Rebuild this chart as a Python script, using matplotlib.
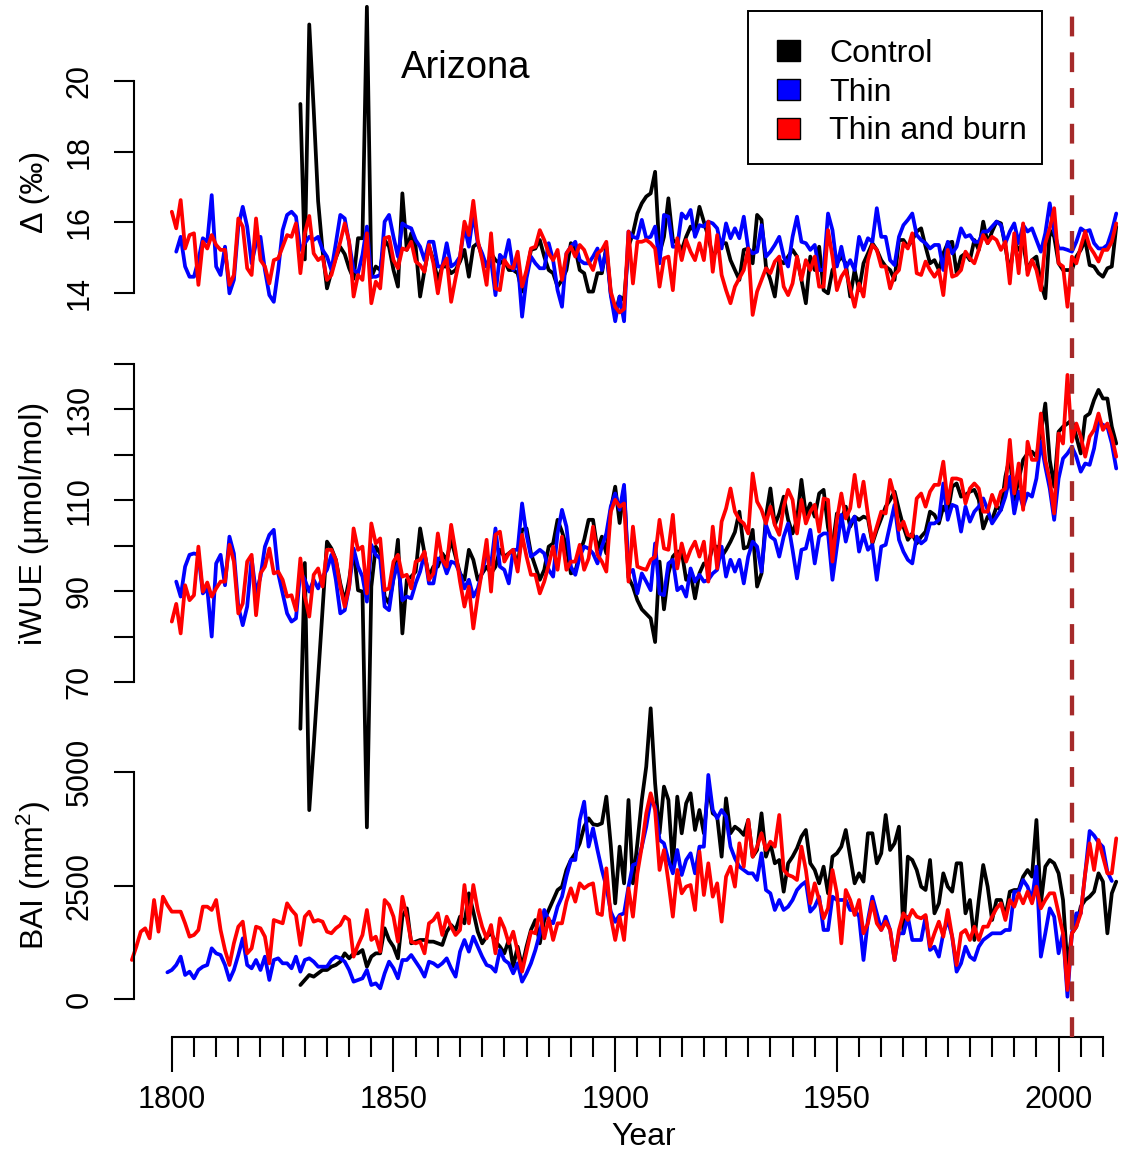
import numpy as np
import matplotlib
matplotlib.use("Agg")
import matplotlib.pyplot as plt
from matplotlib.patches import Patch, Rectangle
from matplotlib.legend_handler import HandlerPatch

plt.rcParams['font.family'] = ['Liberation Sans', 'DejaVu Sans']
plt.rcParams['mathtext.default'] = 'regular'

# ---------------- data ----------------
series_labels = ["Control", "Thin", "Thin and burn"]
series_colors = ["#000000", "#0000FF", "#FF0000"]
title_text = "Arizona"
treatment_year = 2003

# Delta (permil)
delta_control_start = 1829
delta_control = [
    19.35,
    14.95, 21.6, 19.2, 16.6, 15.2, 14.13, 14.6, 15.0, 15.3, 15.1,
    14.7, 14.4, 15.55, 15.55, 22.1, 14.45, 14.75, 14.65, 15.50, 15.31,
    14.65, 14.18, 16.82, 15.22, 15.69, 15.31, 13.90, 14.65, 15.31, 14.93,
    14.37, 14.75, 14.75, 14.56, 14.65, 14.89, 15.22, 14.46, 15.31, 15.41,
    15.03, 14.75, 15.12, 14.93, 14.84, 14.93, 14.65, 14.65, 14.56, 14.04,
    14.56, 15.22, 15.26, 15.50, 15.03, 14.65, 14.56, 14.18, 14.37, 14.65,
    15.41, 15.26, 14.65, 14.56, 14.04, 14.04, 14.56, 14.56, 15.31, 13.99,
    13.40, 13.90, 13.80, 15.31, 15.69, 16.25, 16.54, 16.73, 16.82, 17.43,
    15.12, 15.59, 16.68, 15.50, 15.41, 15.22, 15.59, 15.88, 15.74, 16.44,
    16.02, 15.59, 15.03, 15.22, 15.41, 15.41, 14.93, 14.65, 14.37, 15.22,
    15.26, 14.84, 16.21, 16.07, 14.75, 14.37, 13.90, 14.93, 14.84, 15.03,
    15.22, 15.03, 14.37, 13.71, 15.03, 14.65, 15.31, 14.08, 13.99, 14.65,
    14.84, 15.03, 14.84, 13.90, 14.65, 14.08, 14.84, 15.12, 15.41, 15.22,
    14.93, 14.75, 14.65, 14.37, 15.50, 15.50, 15.31, 15.50, 15.74, 15.83,
    15.31, 14.84, 14.93, 14.65, 15.12, 15.41, 15.45, 14.56, 15.03, 15.12,
    14.93, 15.50, 15.22, 16.02, 15.41, 15.74, 16.02, 15.97, 15.31, 14.56,
    15.45, 15.22, 15.41, 14.65, 14.93, 15.03, 14.27, 13.85, 15.78, 15.59,
    14.84, 14.65, 14.65, 14.65, 15.03, 15.22, 15.50, 14.79, 14.75, 14.56,
    14.46, 14.70, 14.75, 15.88,
]
delta_thin_start = 1801
delta_thin = [
    15.17, 15.59, 14.75, 14.46, 14.46, 14.93, 15.55, 15.45, 16.77,
    14.75, 14.51, 15.31, 13.99, 14.37, 15.88, 16.44, 15.88, 14.84, 15.41,
    15.59, 14.65, 13.94, 13.75, 14.65, 15.78, 16.21, 16.30, 16.16, 15.22,
    15.41, 15.59, 15.50, 15.59, 15.22, 15.03, 14.65, 15.41, 16.21, 16.11,
    15.41, 14.65, 14.56, 15.08, 15.88, 14.46, 14.46, 14.51, 16.02, 16.21,
    15.59, 15.03, 15.97, 15.88, 15.83, 15.50, 15.31, 14.93, 15.45, 15.45,
    14.75, 14.75, 15.41, 14.75, 14.84, 15.03, 15.88, 15.31, 16.25, 15.41,
    15.12, 14.75, 14.93, 13.94, 15.08, 14.93, 15.50, 14.65, 14.93, 13.33,
    14.42, 15.03, 14.84, 14.70, 14.70, 15.41, 14.93, 14.08, 13.61, 15.12,
    15.31, 15.45, 14.93, 14.84, 14.84, 15.03, 15.26, 14.65, 15.22, 13.94,
    13.20, 13.90, 13.20, 15.74, 15.59, 15.55, 16.07, 15.55, 15.59, 15.88,
    14.84, 16.21, 16.16, 15.31, 15.31, 16.25, 16.11, 16.35, 15.59, 15.92,
    15.88, 16.02, 15.97, 15.83, 15.26, 15.97, 15.55, 15.83, 15.55, 16.16,
    15.26, 15.12, 15.17, 15.92, 15.03, 15.17, 15.36, 15.59, 15.03, 14.75,
    15.59, 16.16, 15.45, 15.41, 15.22, 15.36, 14.65, 14.65, 16.25, 15.78,
    14.75, 15.31, 14.70, 14.93, 14.65, 15.59, 15.22, 15.55, 15.45, 16.40,
    15.59, 15.59, 14.93, 14.79, 15.59, 15.92, 16.07, 16.25, 15.64, 15.50,
    15.41, 15.26, 15.36, 15.36, 14.65, 15.45, 15.12, 15.31, 15.83, 15.59,
    15.64, 15.45, 15.45, 15.74, 15.74, 15.88, 16.02, 15.92, 15.41, 15.74,
    15.97, 15.41, 15.92, 15.74, 15.83, 15.50, 15.17, 15.69, 16.54, 15.74,
    15.26, 15.26, 15.22, 15.17, 15.45, 15.83, 15.74, 15.78, 15.41, 15.26,
    15.26, 15.36, 15.74, 16.25,
]
delta_burn_start = 1800
delta_burn = [
    16.30, 15.83, 16.63, 15.26, 15.64, 15.69, 14.23, 15.45, 15.26, 15.64,
    15.36, 15.22, 15.22, 14.23, 14.51, 16.11, 15.88, 14.70, 14.51, 16.11,
    14.93, 14.75, 14.27, 14.93, 14.98, 15.31, 15.64, 15.59, 15.97, 14.56,
    15.69, 16.18, 15.12, 14.93, 15.03, 14.37, 14.51, 14.98, 15.45, 15.97,
    15.45, 13.90, 14.51, 14.37, 15.69, 13.71, 14.32, 14.13, 15.55, 15.59,
    14.93, 14.70, 15.26, 15.22, 15.45, 14.89, 14.79, 14.60, 15.36, 14.84,
    13.99, 14.75, 14.98, 13.75, 14.42, 15.03, 16.02, 15.64, 16.61, 15.50,
    14.93, 14.23, 15.69, 14.13, 14.08, 14.93, 14.75, 14.70, 15.17, 14.18,
    14.65, 15.26, 15.31, 15.78, 15.50, 15.12, 14.93, 15.22, 14.37, 15.12,
    15.31, 15.03, 15.36, 15.22, 14.89, 14.65, 15.12, 15.22, 15.45, 14.04,
    13.61, 13.45, 13.55, 15.74, 14.27, 15.45, 15.45, 15.50, 15.41, 15.26,
    14.18, 14.98, 15.03, 14.08, 15.55, 14.93, 15.50, 15.17, 14.93, 15.41,
    14.93, 16.02, 14.60, 15.64, 14.51, 14.08, 13.71, 14.18, 14.42, 14.65,
    15.26, 13.38, 14.04, 14.37, 14.70, 14.56, 14.89, 15.03, 14.18, 13.94,
    14.27, 15.03, 14.37, 14.93, 14.65, 15.03, 14.18, 14.18, 15.78, 15.03,
    14.08, 14.46, 14.65, 14.13, 13.61, 14.27, 13.90, 14.93, 15.36, 15.22,
    14.75, 14.75, 14.13, 14.51, 14.65, 15.41, 15.26, 15.69, 14.56, 14.51,
    14.89, 14.65, 14.46, 14.65, 13.94, 15.22, 14.46, 14.51, 14.65, 15.17,
    14.98, 14.84, 15.22, 15.64, 15.41, 15.59, 15.50, 15.22, 15.45, 14.27,
    15.69, 14.56, 15.97, 14.51, 14.93, 14.65, 14.08, 15.41, 15.83, 16.40,
    14.84, 14.75, 13.61, 15.03, 14.84, 15.31, 15.74, 15.31, 15.12, 14.89,
    15.22, 15.22, 15.45, 15.97,
]

# iWUE (umol/mol)
iwue_control_start = 1829
iwue_control = [
    59.7,
    96.2, 41.8, 56.0, 71.0, 86.0, 100.9, 99.4, 96.9, 91.7, 87.7,
    92.5, 99.1, 90.2, 89.9, 38.0, 91.0, 99.8, 98.3, 88.8, 87.3,
    92.8, 101.3, 80.7, 92.5, 93.2, 94.3, 103.8, 98.3, 93.2, 95.4,
    95.4, 98.3, 96.9, 101.3, 97.6, 93.9, 92.5, 99.1, 96.9, 92.5,
    93.9, 95.4, 93.9, 95.4, 99.1, 97.6, 98.3, 99.1, 95.4, 103.5,
    103.8, 98.3, 95.4, 92.5, 94.7, 99.8, 100.5, 105.7, 103.1, 99.8,
    93.9, 94.3, 98.3, 101.3, 105.7, 105.7, 99.1, 102.0, 98.3, 107.9,
    113.0, 105.0, 112.6, 93.0, 91.0, 88.0, 86.0, 85.0, 84.0, 78.8,
    96.5, 86.0, 93.9, 97.6, 98.7, 98.7, 92.5, 93.9, 88.4, 93.9,
    96.1, 96.1, 99.8, 99.8, 97.6, 99.1, 100.9, 103.0, 107.5, 99.4,
    99.8, 103.5, 91.0, 93.9, 106.4, 112.6, 104.6, 107.1, 110.8, 105.7,
    102.7, 105.7, 114.5, 106.8, 109.3, 106.4, 111.5, 112.3, 104.0, 99.8,
    107.1, 105.7, 108.6, 104.2, 106.4, 105.7, 106.4, 106.0, 100.5, 103.5,
    106.0, 108.6, 110.1, 111.9, 107.9, 104.2, 101.3, 102.7, 100.5, 102.0,
    103.1, 107.5, 106.8, 104.9, 108.6, 107.1, 113.0, 113.7, 110.8, 111.2,
    111.9, 112.3, 110.1, 103.8, 106.4, 105.7, 108.6, 107.9, 115.2, 119.6,
    110.1, 114.5, 118.9, 120.3, 120.7, 119.6, 124.7, 131.3, 118.9, 113.0,
    125.1, 126.2, 126.9, 127.7, 124.0, 120.3, 128.4, 129.1, 132.1, 134.3,
    132.4, 132.4, 126.2, 122.5,
]
iwue_thin_start = 1801
iwue_thin = [
    92.1, 88.8, 95.4, 98.0, 98.3, 98.0, 89.5, 90.6, 80.0,
    96.1, 98.0, 91.3, 102.0, 98.3, 86.6, 82.5, 86.6, 97.2, 89.5,
    93.2, 99.8, 102.4, 103.5, 93.9, 89.5, 85.1, 83.3, 84.0, 94.3,
    92.5, 89.9, 92.5, 90.6, 93.2, 94.7, 98.0, 92.5, 85.1, 85.8,
    91.0, 99.4, 95.4, 93.2, 87.7, 100.2, 98.0, 97.2, 86.6, 85.8,
    92.8, 96.1, 88.0, 88.8, 88.4, 91.7, 94.3, 98.3, 91.7, 91.7,
    97.2, 96.9, 93.9, 96.5, 96.1, 93.9, 90.6, 92.5, 88.8, 90.6,
    94.3, 98.3, 95.8, 103.8, 95.4, 94.7, 91.7, 99.1, 99.1, 109.3,
    102.4, 97.6, 98.3, 99.1, 98.3, 94.7, 93.2, 102.7, 107.9, 104.2,
    95.4, 93.6, 97.6, 99.8, 99.4, 98.3, 96.1, 99.8, 102.7, 108.6,
    111.5, 107.9, 113.4, 93.9, 94.7, 89.5, 93.9, 92.1, 90.2, 100.5,
    89.5, 89.1, 96.1, 96.9, 90.2, 91.0, 88.8, 95.0, 92.1, 93.6,
    92.1, 92.5, 93.9, 94.7, 99.8, 93.2, 96.9, 94.3, 96.9, 91.7,
    97.6, 100.9, 99.8, 94.3, 104.6, 102.0, 101.3, 97.6, 102.0, 104.9,
    99.1, 92.8, 99.1, 99.4, 103.5, 96.1, 102.0, 102.7, 102.7, 92.5,
    99.8, 106.8, 100.9, 104.9, 106.4, 98.7, 102.4, 99.1, 100.2, 92.5,
    99.8, 100.2, 104.6, 109.0, 101.3, 98.7, 96.9, 96.1, 102.0, 100.5,
    101.3, 104.9, 104.9, 105.7, 113.7, 105.7, 109.0, 108.6, 103.1, 108.6,
    105.3, 107.5, 108.6, 110.4, 107.9, 104.9, 106.4, 107.9, 110.8, 115.2,
    107.1, 111.9, 108.6, 111.5, 110.8, 114.8, 122.9, 117.4, 112.6, 105.7,
    114.8, 119.2, 120.3, 121.8, 119.6, 116.3, 118.1, 117.8, 121.4, 127.3,
    126.6, 126.2, 122.5, 117.0,
]
iwue_burn_start = 1800
iwue_burn = [
    83.3, 87.2, 80.7, 91.3, 88.0, 89.1, 99.8, 89.9, 91.9, 88.8,
    90.6, 92.1, 92.1, 100.2, 96.5, 85.1, 87.3, 96.5, 98.0, 84.7,
    93.9, 95.4, 99.4, 93.9, 94.3, 92.5, 88.8, 89.1, 85.8, 97.2,
    88.8, 84.4, 93.6, 95.0, 91.0, 99.1, 99.1, 96.9, 91.0, 86.6,
    91.0, 103.8, 99.1, 99.8, 89.5, 104.9, 100.5, 101.6, 90.2, 90.6,
    96.5, 98.0, 93.2, 93.6, 90.6, 96.5, 96.9, 98.7, 92.5, 93.9,
    102.7, 96.9, 95.4, 104.6, 98.7, 92.1, 86.6, 91.0, 81.8, 88.8,
    94.7, 101.3, 89.9, 102.4, 103.1, 96.5, 98.3, 99.1, 94.3, 102.4,
    97.6, 93.6, 93.6, 89.5, 92.1, 95.8, 99.8, 94.7, 102.0, 94.7,
    96.5, 96.5, 100.2, 94.7, 97.2, 104.2, 98.0, 96.5, 94.3, 107.5,
    110.1, 108.6, 109.3, 92.1, 104.2, 95.4, 95.0, 94.7, 96.9, 97.6,
    105.7, 99.4, 99.1, 106.8, 95.0, 100.5, 96.5, 99.1, 100.9, 97.6,
    100.9, 92.1, 104.2, 95.0, 105.3, 108.2, 112.6, 107.5, 105.7, 104.9,
    102.7, 115.9, 109.7, 107.9, 104.9, 108.6, 104.6, 102.4, 108.6, 112.3,
    110.1, 102.7, 110.1, 104.9, 107.5, 109.0, 103.1, 110.4, 110.1, 96.5,
    105.7, 111.5, 106.0, 108.2, 115.6, 108.6, 114.1, 106.8, 100.9, 104.2,
    107.5, 107.1, 114.5, 110.8, 103.5, 105.3, 102.4, 102.0, 110.4, 111.5,
    108.6, 111.9, 113.4, 113.4, 118.5, 109.3, 114.8, 114.8, 114.5, 109.3,
    112.6, 113.7, 112.6, 107.5, 107.5, 111.2, 108.6, 111.9, 112.6, 123.3,
    111.5, 118.1, 107.9, 122.9, 118.9, 118.9, 129.1, 118.9, 114.5, 107.1,
    124.7, 122.5, 137.6, 122.9, 126.9, 124.0, 119.6, 124.0, 125.5, 129.1,
    125.5, 126.9, 124.0, 119.6,
]

# BAI (mm2)
bai_control_start = 1829
bai_control = [
    308,
    419, 529, 492, 565, 639, 639, 712, 749, 822, 1006,
    896, 1006, 1006, 1079, 712, 933, 1006, 1006, 1557, 1300,
    1153, 896, 1814, 1997, 1226, 1263, 1300, 1300, 1263, 1263,
    1226, 1190, 1483, 1630, 1520, 1814, 1667, 2328, 1924, 1483,
    1226, 1373, 1447, 1263, 1153, 1006, 1300, 712, 1153, 712,
    1153, 1520, 1740, 1226, 1740, 1961, 2181, 2400, 2475, 2842,
    3062, 3209, 3429, 3796, 3980, 3850, 3830, 3870, 4457, 3392,
    2107, 3356, 2548, 4384, 2548, 3429, 4384, 5118, 6403, 4751,
    3650, 4678, 4384, 2915, 4457, 3650, 4310, 4531, 3723, 4163,
    3650, 4678, 4090, 4017, 3135, 4420, 3650, 3796, 3723, 3613,
    3943, 3135, 3282, 4090, 3135, 3429, 2989, 3062, 2364, 2989,
    3135, 3319, 3576, 3723, 2989, 2842, 2548, 2915, 2328, 3135,
    3209, 3356, 3723, 3135, 2548, 2768, 2585, 3650, 3650, 2989,
    3209, 4053, 3282, 3429, 3796, 1447, 3135, 3062, 2842, 2475,
    2401, 3062, 1887, 2107, 2768, 2475, 2364, 2989, 2989, 1887,
    2181, 1300, 2181, 2952, 2475, 1740, 2181, 2181, 1814, 2364,
    2401, 2401, 2695, 2842, 2695, 3943, 2107, 2915, 3062, 2989,
    2768, 2181, 712, 1447, 1593, 2034, 2181, 2254, 2364, 2768,
    2585, 1447, 2328, 2585,
]
bai_thin_start = 1799
bai_thin = [
    587,
    639, 749, 933, 529, 602, 455, 639, 712, 749, 1116,
    1006, 969, 749, 419, 639, 969, 1336, 749, 676, 859,
    639, 933, 419, 859, 896, 786, 786, 676, 933, 602,
    859, 896, 822, 712, 712, 712, 859, 933, 896, 822,
    639, 382, 419, 455, 639, 308, 345, 235, 565, 822,
    676, 455, 859, 859, 969, 822, 676, 492, 822, 786,
    712, 786, 896, 676, 492, 1043, 1300, 1043, 1373, 1153,
    933, 749, 712, 602, 1079, 859, 786, 565, 786, 382,
    565, 786, 1079, 1447, 1961, 1740, 1667, 2034, 2254, 2695,
    3062, 3062, 3943, 4347, 3356, 3760, 3282, 2842, 2475, 1924,
    1700, 1850, 1887, 2475, 2952, 2989, 3356, 3796, 4384, 4237,
    3503, 3429, 3062, 2768, 3282, 2732, 3062, 3209, 2768, 3356,
    3356, 4935, 4163, 3980, 4163, 4017, 3356, 3099, 2915, 2842,
    2768, 2768, 2621, 3209, 2401, 2328, 1961, 2181, 1961, 2034,
    2181, 2401, 2511, 2585, 1924, 2034, 2254, 1520, 1520, 2254,
    2181, 2181, 2181, 1961, 1961, 1814, 859, 1740, 2254, 1887,
    1520, 1814, 1520, 859, 1447, 1447, 1814, 1300, 1300, 1300,
    1814, 1079, 1153, 933, 1447, 1740, 1373, 602, 786, 1153,
    933, 859, 1153, 1300, 1373, 1447, 1447, 1447, 1520, 1520,
    2364, 2364, 2621, 2475, 2181, 2915, 933, 1447, 1997, 1814,
    1006, 1447, 51, 1447, 1887, 1887, 2768, 3700, 3600, 3450,
    3350, 2800, 2600,
]
bai_burn_start = 1791
bai_burn = [
    860, 1153, 1483, 1557, 1336, 2181, 1483, 2254, 2071,
    1924, 1924, 1924, 1667, 1373, 1410, 1520, 2034, 2034, 1961,
    2181, 1520, 1079, 749, 1226, 1593, 1704, 1006, 1116, 1593,
    1557, 1373, 786, 1740, 1704, 1667, 2107, 1961, 1850, 1190,
    1814, 1924, 1704, 1740, 1704, 1483, 1447, 1557, 1630, 1814,
    1740, 933, 1190, 1410, 1961, 1300, 1373, 1043, 2181, 2071,
    1814, 1263, 2254, 1814, 1263, 1226, 1263, 1006, 1667, 1740,
    1887, 1410, 1814, 1593, 1410, 1520, 2511, 1667, 2511, 1961,
    1593, 1336, 1630, 1006, 1777, 1557, 1226, 1483, 1043, 602,
    1043, 1483, 1447, 1961, 1336, 1777, 1300, 1667, 1667, 2144,
    2438, 2144, 2548, 2438, 2511, 2548, 1887, 1850, 2878, 1814,
    1300, 1814, 1300, 2438, 1814, 2768, 3356, 4090, 4531, 4163,
    2842, 3282, 2585, 1814, 2842, 2328, 2475, 2511, 1961, 3246,
    2291, 2989, 2254, 2548, 1704, 2695, 2915, 2475, 3429, 2915,
    3943, 3135, 3356, 3650, 3282, 3466, 3356, 4053, 2842, 2732,
    2695, 2621, 3356, 2842, 2107, 2548, 2181, 1777, 1997, 2842,
    2328, 1226, 2401, 2181, 1850, 2181, 1447, 1667, 2144, 1667,
    1520, 1704, 1520, 859, 1520, 1887, 1740, 1961, 1814, 1777,
    1850, 1153, 1447, 1704, 1373, 1961, 1373, 749, 1447, 1520,
    1300, 1593, 1300, 1593, 1593, 1814, 1997, 2107, 1740, 2181,
    2034, 2328, 2107, 2365, 2107, 2475, 1997, 2181, 2328, 2328,
    1887, 1447, 198, 1447, 1593, 1887, 2768, 3429, 2842, 3503,
    3135, 2768, 2768, 3539,
]

delta_ticks = [14, 16, 18, 20]
iwue_ticks = [70, 80, 90, 100, 110, 120, 130, 140]
iwue_ticklabels = ["70", "", "90", "", "110", "", "130", ""]
bai_ticks = [0, 2500, 5000]
year_major_ticks = [1800, 1850, 1900, 1950, 2000]
year_minor_ticks = list(range(1800, 2011, 5))

# ---------------- layout (pixel geometry of the reference) ----------------
W, H = 1121, 1152
fig = plt.figure(figsize=(W / 100, H / 100), dpi=100)
PX = 0.72  # points per pixel at 100 dpi

PX_PER_YEAR = 4.434
X1800 = 171.8
XL, XR = 134, 1121
xlim = (1800 + (XL - X1800) / PX_PER_YEAR, 1800 + (XR - X1800) / PX_PER_YEAR)

LW_AX = 1.5
LW_DATA = 2.7
FS = 22
FS_LAB = 23


def make_ax(top_px, bottom_px, ylim, ticks, ticklabels=None):
    ax = fig.add_axes([XL / W, 1 - bottom_px / H, (XR - XL) / W, (bottom_px - top_px) / H])
    ax.set_xlim(*xlim)
    ax.set_ylim(*ylim)
    ax.patch.set_visible(False)
    for s in ("top", "right", "bottom"):
        ax.spines[s].set_visible(False)
    ax.spines["left"].set_linewidth(LW_AX)
    ax.spines["left"].set_bounds(ylim[0], ylim[1])
    ax.set_yticks(ticks)
    if ticklabels is not None:
        ax.set_yticklabels(ticklabels)
    ax.tick_params(axis="y", direction="out", length=20 * PX, width=LW_AX,
                   labelsize=FS, labelrotation=90, pad=14)
    for lab in ax.get_yticklabels():
        lab.set_verticalalignment("center")
    ax.tick_params(axis="x", which="both", bottom=False, labelbottom=False)
    return ax


def draw_series(ax, starts, values):
    for start, vals, col in zip(starts, values, series_colors):
        yrs = np.arange(start, start + len(vals))
        ax.plot(yrs, vals, color=col, lw=LW_DATA, clip_on=False,
                solid_joinstyle="round", solid_capstyle="round")


ax1 = make_ax(81, 293, (14, 20), delta_ticks)
draw_series(ax1, [delta_control_start, delta_thin_start, delta_burn_start],
            [delta_control, delta_thin, delta_burn])

ax2 = make_ax(364, 682, (70, 140), iwue_ticks, iwue_ticklabels)
draw_series(ax2, [iwue_control_start, iwue_thin_start, iwue_burn_start],
            [iwue_control, iwue_thin, iwue_burn])

ax3 = make_ax(772, 999, (0, 5000), bai_ticks)
draw_series(ax3, [bai_control_start, bai_thin_start, bai_burn_start],
            [bai_control, bai_thin, bai_burn])

# x axis (below the BAI panel)
ax3.spines["bottom"].set_visible(True)
ax3.spines["bottom"].set_linewidth(LW_AX)
ax3.spines["bottom"].set_position(("outward", 38 * PX))
ax3.spines["bottom"].set_bounds(1800, 2010)
ax3.set_xticks(year_major_ticks)
ax3.set_xticks(year_minor_ticks, minor=True)
ax3.tick_params(axis="x", which="major", bottom=True, labelbottom=True,
                direction="out", length=35 * PX, width=LW_AX, labelsize=FS, pad=9)
ax3.tick_params(axis="x", which="minor", bottom=True, direction="out",
                length=20 * PX, width=LW_AX)

# treatment line
ax3.axvline(treatment_year, ymin=(999 - 1037) / 227, ymax=(999 - 15) / 227,
            color="#A52A2A", lw=3.1, dashes=(4.6, 3.7), clip_on=False, zorder=10)

# axis titles
fig.text(35 / W, 1 - 192 / H, "Δ (‰)", rotation=90, ha="center", va="center", fontsize=FS_LAB)
fig.text(34 / W, 1 - 523 / H, "iWUE (μmol/mol)", rotation=90, ha="center", va="center", fontsize=FS_LAB)
fig.text(34 / W, 1 - 876 / H, r"BAI (mm$^2$)", rotation=90, ha="center", va="center", fontsize=FS_LAB)
fig.text(644 / W, 1 - 1145 / H, "Year", ha="center", va="baseline", fontsize=FS_LAB)
fig.text(466 / W, 1 - 78 / H, title_text, ha="center", va="baseline", fontsize=27.5)


# legend with square keys and a separately drawn frame
def square_patch(legend, orig_handle, xdescent, ydescent, width, height, fontsize):
    side_w, side_h = 23 * PX, 21 * PX
    return Rectangle((width - side_w - xdescent, -ydescent + (height - side_h) / 2),
                     side_w, side_h)


handles = [Patch(facecolor=c, edgecolor="black", linewidth=1.0) for c in series_colors]
leg = fig.legend(handles, series_labels, loc="upper left",
                 bbox_to_anchor=(748 / W, 1 - 11 / H),
                 fontsize=FS_LAB, frameon=False,
                 handlelength=0.76, handleheight=0.7,
                 handletextpad=0.91, borderpad=0.88, labelspacing=0.27,
                 borderaxespad=0,
                 handler_map={Patch: HandlerPatch(patch_func=square_patch)})
fig.add_artist(Rectangle((748 / W, 1 - 164 / H), 294 / W, 153 / H,
                         transform=fig.transFigure, fill=False,
                         edgecolor="black", linewidth=1.4))

fig.savefig("out.png", dpi=100)
